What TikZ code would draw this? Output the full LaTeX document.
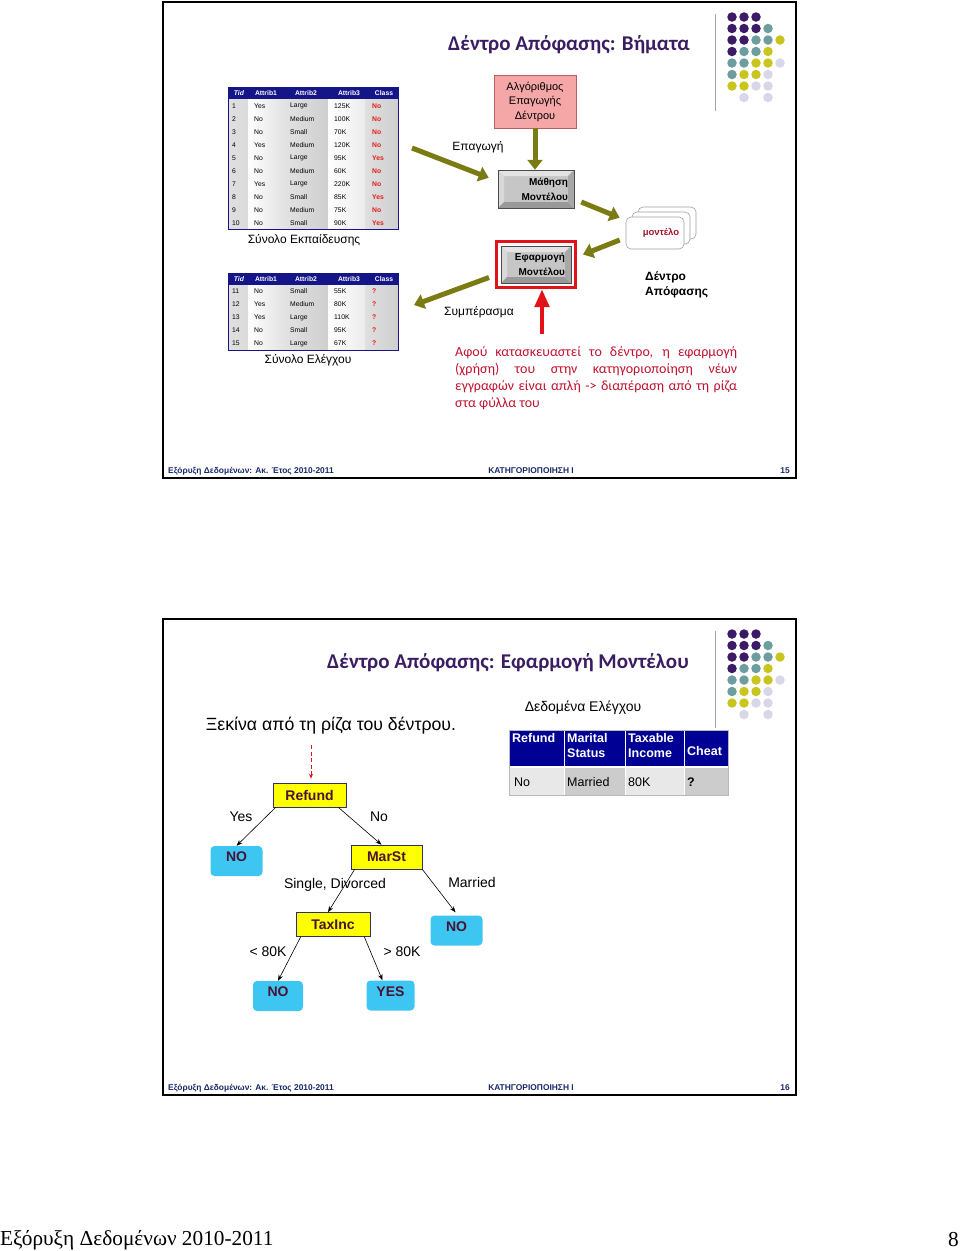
\documentclass[tikz,border=0pt]{standalone}
\usepackage{fontspec}
\setmainfont{Liberation Sans}
\newfontfamily\calibrifont{Carlito}
\newfontfamily\pagefont{Liberation Serif}
\usetikzlibrary{arrows.meta}

\definecolor{titlepurple}{HTML}{3A1D62}
\definecolor{dotpurple}{HTML}{3D1A66}
\definecolor{dotteal}{HTML}{6E9DA0}
\definecolor{dotyellow}{HTML}{C8C61E}
\definecolor{dotlilac}{HTML}{D7D7E9}
\definecolor{tabnavy}{HTML}{15158A}
\definecolor{headnavy}{HTML}{000094}
\definecolor{olivearrow}{HTML}{7B7B14}
\definecolor{algopink}{HTML}{F5A7A7}
\definecolor{algoedge}{HTML}{B86060}
\definecolor{notered}{HTML}{C0122E}
\definecolor{classred}{HTML}{E31B1B}
\definecolor{modelred}{HTML}{A3162B}
\definecolor{applyred}{HTML}{E3121A}
\definecolor{leafcyan}{HTML}{3DC6F2}
\definecolor{treeyellow}{HTML}{FFFF00}
\definecolor{treeedge}{HTML}{30306A}
\definecolor{treetext}{HTML}{4A1233}
\definecolor{footblue}{HTML}{17286A}

\tikzset{
    slideframe/.style={draw=black, line width=1.8pt},
    slidetitle/.style={font=\calibrifont\bfseries\fontsize{21}{25}\selectfont, text=titlepurple, inner sep=0pt},
    footnote/.style={font=\bfseries\fontsize{8.4}{10}\selectfont, text=footblue, inner sep=0pt},
    dot/.style={circle, minimum size=9.5pt, inner sep=0pt},
    cell/.style={font=\fontsize{6.8}{8}\selectfont, inner sep=0pt, anchor=west},
    headcell/.style={font=\bfseries\fontsize{6.8}{8}\selectfont, text=white, inner sep=0pt},
    stepword/.style={font=\fontsize{12}{14}\selectfont, inner sep=0pt},
    bigarrow/.style={draw=olivearrow, line width=5pt, -{Triangle[length=10pt,width=15pt]}},
    redarrow/.style={draw=applyred, line width=4.5pt, -{Triangle[length=18pt,width=14pt]}},
    algobox/.style={draw=algoedge, fill=algopink, line width=0.8pt, minimum width=82pt, minimum height=53pt, align=center, font=\fontsize{11}{14.5}\selectfont},
    bevelbox/.style={fill=gray!45, draw=gray!60!black, line width=0.5pt, font=\bfseries\fontsize{10}{15}\selectfont, align=right, inner xsep=6pt, inner ysep=0pt,
        path picture={
            \coordinate (bnw) at (path picture bounding box.north west);
            \coordinate (bne) at (path picture bounding box.north east);
            \coordinate (bsw) at (path picture bounding box.south west);
            \coordinate (bse) at (path picture bounding box.south east);
            \fill[gray!22] (bnw) -- (bne) -- ([shift={(-6pt,-6pt)}]bne) -- ([shift={(6pt,-6pt)}]bnw) -- cycle;
            \fill[gray!30] (bnw) -- ([shift={(6pt,-6pt)}]bnw) -- ([shift={(6pt,6pt)}]bsw) -- (bsw) -- cycle;
            \fill[gray!80] (bsw) -- (bse) -- ([shift={(-6pt,6pt)}]bse) -- ([shift={(6pt,6pt)}]bsw) -- cycle;
            \fill[gray!68] (bne) -- (bse) -- ([shift={(-6pt,6pt)}]bse) -- ([shift={(-6pt,-6pt)}]bne) -- cycle;
        }},
    modelcard/.style={draw=gray!75, fill=white, rounded corners=5pt, minimum width=58pt, minimum height=32pt, line width=0.6pt},
    notetext/.style={text width=282pt, align=justify, inner sep=0pt, text=notered,
        font=\calibrifont\fontsize{14}{17}\selectfont},
    rechead/.style={font=\bfseries\fontsize{12.5}{15}\selectfont, text=white, inner sep=0pt, anchor=west},
    reccell/.style={font=\fontsize{12.5}{15}\selectfont, inner sep=0pt, anchor=west},
    testbox/.style={draw=treeedge, fill=treeyellow, line width=0.6pt, font=\bfseries\fontsize{14}{16}\selectfont, text=treetext, minimum height=24pt, inner sep=0pt},
    leaf/.style={fill=leafcyan, rounded corners=4pt, font=\bfseries\fontsize{14}{16}\selectfont, text=treetext, minimum height=30pt, text depth=8pt, inner sep=0pt},
    branch/.style={draw=black, line width=0.6pt, -{Stealth[length=6pt,width=4.5pt]}},
    branchlabel/.style={font=\fontsize{14}{16}\selectfont, inner sep=0pt},
}

\begin{document}
\begin{tikzpicture}[x=1pt, y=-1pt]
    \useasboundingbox (0,0) rectangle (960,1251);

    % Slide frames
    \draw[slideframe] (163,2) rectangle (796,478);
    \draw[slideframe] (163,619) rectangle (796,1095);

    % Corner decoration (both slides)
    \foreach \off in {0,617} {
        \draw[gray!70, line width=1pt] (715,{14+\off}) -- (715,{111+\off});
        \foreach \c/\r/\col in {1/1/dotpurple, 2/1/dotpurple, 3/1/dotpurple,
                1/2/dotpurple, 2/2/dotpurple, 3/2/dotpurple, 4/2/dotteal,
                1/3/dotpurple, 2/3/dotpurple, 3/3/dotteal, 4/3/dotteal, 5/3/dotyellow,
                1/4/dotpurple, 2/4/dotteal, 3/4/dotteal, 4/4/dotyellow,
                1/5/dotteal, 2/5/dotteal, 3/5/dotyellow, 4/5/dotyellow, 5/5/dotlilac,
                1/6/dotteal, 2/6/dotyellow, 3/6/dotyellow, 4/6/dotlilac,
                1/7/dotyellow, 2/7/dotyellow, 3/7/dotlilac, 4/7/dotlilac,
                2/8/dotlilac, 4/8/dotlilac}
            \node[dot, fill=\col] (dot-\off-\c-\r) at ({720+12*\c},{5.5+11.5*\r+\off}) {};
    }

    % ---------------- Slide 15 ----------------
    \node[slidetitle] (title15) at (569,45) {Δέντρο Απόφασης: Βήματα};

    % Table bodies (training and test)
    \foreach \ytop/\ybot in {87/229, 273/350} {
        \fill[tabnavy] (228,\ytop) rectangle (398,\ytop+12);
        \foreach \xa/\xb/\lc/\rc in {228/248/gray!25/gray!28, 248/283/white/gray!22, 283/328/gray!22/gray!38,
                328/365/white/gray!15, 365/398/gray!25/gray!38}
            \shade[left color=\lc, right color=\rc] (\xa,\ytop+12) rectangle (\xb,\ybot);
        \draw[tabnavy, line width=0.8pt] (228,\ytop) rectangle (398,\ybot);
        \node[headcell, font=\bfseries\itshape\fontsize{6.8}{8}\selectfont] (tid-\ytop) at (239,\ytop+6) {Tid};
        \foreach \hx/\htxt in {266/Attrib1, 306/Attrib2, 349/Attrib3, 384/Class}
            \node[headcell] (head-\ytop-\htxt) at (\hx,\ytop+6) {\htxt};
    }

    % Training records
    \foreach \tid/\ra/\rb/\rc/\cls in {1/Yes/Large/125K/No, 2/No/Medium/100K/No, 3/No/Small/70K/No,
            4/Yes/Medium/120K/No, 5/No/Large/95K/Yes, 6/No/Medium/60K/No, 7/Yes/Large/220K/No,
            8/No/Small/85K/Yes, 9/No/Medium/75K/No, 10/No/Small/90K/Yes} {
        \node[cell] (tid\tid) at (232,{93+13*\tid}) {\tid};
        \node[cell] (a\tid) at (254,{93+13*\tid}) {\ra};
        \node[cell] (b\tid) at (290,{93+13*\tid}) {\rb};
        \node[cell] (c\tid) at (334,{93+13*\tid}) {\rc};
        \node[cell, text=classred, font=\bfseries\fontsize{6.8}{8}\selectfont] (cls\tid) at (372,{93+13*\tid}) {\cls};
    }
    \node[stepword] (trainlabel) at (304,240) {Σύνολο Εκπαίδευσης};

    % Test records
    \foreach \tid/\ra/\rb/\rc [count=\i] in {11/No/Small/55K, 12/Yes/Medium/80K, 13/Yes/Large/110K,
            14/No/Small/95K, 15/No/Large/67K} {
        \node[cell] (tid\tid) at (232,{278.5+13*\i}) {\tid};
        \node[cell] (a\tid) at (254,{278.5+13*\i}) {\ra};
        \node[cell] (b\tid) at (290,{278.5+13*\i}) {\rb};
        \node[cell] (c\tid) at (334,{278.5+13*\i}) {\rc};
        \node[cell, text=classred, font=\bfseries\fontsize{6.8}{8}\selectfont] (cls\tid) at (372,{278.5+13*\i}) {?};
    }
    \node[stepword] (testlabel) at (308,360) {Σύνολο Ελέγχου};

    % Induction / deduction flow
    \node[algobox] (algo) at (535,101.5) {Αλγόριθμος\\Επαγωγής\\Δέντρου};
    \node[bevelbox, text width=64pt, minimum height=38pt] (learn) at (536,189) {Μάθηση\\Μοντέλου};
    \node[draw=applyred, line width=3pt, minimum width=79pt, minimum height=46pt] (applyframe) at (536,264.5) {};
    \node[bevelbox, text width=58pt, minimum height=37pt] (apply) at (536,264.5) {Εφαρμογή\\Μοντέλου};

    % Stack of models
    \node[modelcard] (card3) at (667,223) {};
    \node[modelcard] (card2) at (661,228) {};
    \node[modelcard] (card1) at (655,233) {};
    \node[font=\bfseries\fontsize{9.5}{11}\selectfont, text=modelred, inner sep=0pt] (modelword) at (661,233) {μοντέλο};
    \node[font=\bfseries\fontsize{12}{15}\selectfont, align=left, anchor=west, inner sep=0pt] (treeword) at (645,285) {Δέντρο\\Απόφασης};

    \node[stepword] (induction) at (478,147) {Επαγωγή};
    \node[stepword] (deduction) at (479,312) {Συμπέρασμα};

    \coordinate (indtail) at (412,148);
    \coordinate (conclhead) at (414,305);
    \coordinate (notetail) at (542,334);
    \draw[bigarrow] (algo.south) -- (algo.south |- learn.north);
    \draw[bigarrow] (indtail) -- ([shift={(-9pt,-8pt)}]learn.north west);
    \draw[bigarrow] ([shift={(7pt,-13pt)}]learn.east) -- ([shift={(-6pt,-1pt)}]card1.north west);
    \draw[bigarrow] ([shift={(-6pt,-7pt)}]card1.west) -- ([shift={(6pt,10pt)}]applyframe.east);
    \draw[bigarrow] ([shift={(-6pt,-13pt)}]applyframe.west) -- (conclhead);
    \draw[redarrow] (notetail) -- (notetail |- applyframe.south);

    \node[notetext, anchor=north west] (note) at (455,346.5) {\hyphenpenalty=10000\relax
        Αφού κατασκευαστεί το δέντρο, η εφαρμογή\linebreak
        (χρήση) του στην κατηγοριοποίηση νέων\linebreak
        εγγραφών είναι απλή -> διαπέραση από τη ρίζα\linebreak
        στα φύλλα του};

    % ---------------- Slide 16 ----------------
    \node[slidetitle] (title16) at (508,663) {Δέντρο Απόφασης: Εφαρμογή Μοντέλου};
    \node[font=\fontsize{17.7}{20}\selectfont, inner sep=0pt] (startnote) at (331,726) {Ξεκίνα από τη ρίζα του δέντρου.};
    \node[font=\fontsize{14}{16}\selectfont, inner sep=0pt] (testcaption) at (583,708) {Δεδομένα Ελέγχου};

    % Test record
    \fill[headnavy] (509,730) rectangle (728,767);
    \foreach \xa/\xb/\shade in {509/564/gray!18, 564/625/gray!40, 625/684/gray!18, 684/728/gray!40}
        \fill[\shade] (\xa,767) rectangle (\xb,795);
    \foreach \xs in {564,625,684}
        \draw[white, line width=1pt] (\xs,730) -- (\xs,795);
    \draw[white, line width=1.5pt] (509,767) -- (728,767);
    \draw[gray!55, line width=0.5pt] (509,730) rectangle (728,795);
    \node[rechead] (hrefund) at (512,738) {Refund};
    \node[rechead, align=left] (hmarital) at (567,745.5) {Marital\\Status};
    \node[rechead, align=left] (htaxable) at (628,745.5) {Taxable\\Income};
    \node[rechead] (hcheat) at (687,751) {Cheat};
    \node[reccell] (vrefund) at (514,782) {No};
    \node[reccell] (vmarital) at (567,782) {Married};
    \node[reccell] (vtaxable) at (628,782) {80K};
    \node[reccell, font=\bfseries\fontsize{12.5}{15}\selectfont] (vcheat) at (687,782) {?};

    % Decision tree
    \node[testbox, minimum width=73pt] (refund) at (309.5,795) {Refund};
    \node[leaf, minimum width=52pt] (no1) at (236.5,861) {NO};
    \node[testbox, minimum width=71pt] (marst) at (386.5,857) {MarSt};
    \node[testbox, minimum width=74pt] (taxinc) at (333,924.5) {TaxInc};
    \node[leaf, minimum width=52pt] (no2) at (456.5,930.5) {NO};
    \node[leaf, minimum width=50pt] (no3) at (278,996) {NO};
    \node[leaf, minimum width=48pt] (yes) at (390.5,995.5) {YES};

    \coordinate (rootcue) at (311,745);
    \draw[applyred, dashed, dash pattern=on 4pt off 2.5pt, line width=0.8pt, -{Stealth[length=5pt,width=4pt]}] (rootcue) -- ([shift={(1.5pt,4pt)}]refund.north);

    \draw[branch] ([xshift=3pt]refund.south west) -- (no1.north);
    \draw[branch] ([xshift=-8pt]refund.south east) -- ([xshift=-5pt]marst.north);
    \draw[branch] ([xshift=4pt]marst.south west) -- ([xshift=-5pt]taxinc.north);
    \draw[branch] (marst.south east) -- ([shift={(-1pt,3pt)}]no2.north);
    \draw[branch] ([xshift=5pt]taxinc.south west) -- (no3.north);
    \draw[branch] ([xshift=-6pt]taxinc.south east) -- ([xshift=-8pt]yes.north);

    \node[branchlabel] (lyes) at (241,817) {Yes};
    \node[branchlabel] (lno) at (379,817) {No};
    \node[branchlabel] (lsingle) at (335,885) {Single, Divorced};
    \node[branchlabel] (lmarried) at (472,882) {Married};
    \node[branchlabel] (lless) at (268,952) {< 80K};
    \node[branchlabel] (lmore) at (402,952) {> 80K};

    % Footers
    \foreach \fy/\num in {471/15, 1088/16} {
        \node[footnote, anchor=west] (footl-\num) at (168,\fy) {Εξόρυξη Δεδομένων: Ακ. Έτος 2010-2011};
        \node[footnote] (footc-\num) at (531,\fy) {ΚΑΤΗΓΟΡΙΟΠΟΙΗΣΗ Ι};
        \node[footnote, anchor=east] (footr-\num) at (790,\fy) {\num};
    }

    % Page footer
    \node[font=\pagefont\fontsize{21.3}{24}\selectfont, anchor=west, inner sep=0pt] (pageleft) at (0,1240) {Εξόρυξη Δεδομένων 2010-2011};
    \node[font=\pagefont\fontsize{21.3}{24}\selectfont, anchor=east, inner sep=0pt] (pageright) at (959,1240) {8};
\end{tikzpicture}
\end{document}
